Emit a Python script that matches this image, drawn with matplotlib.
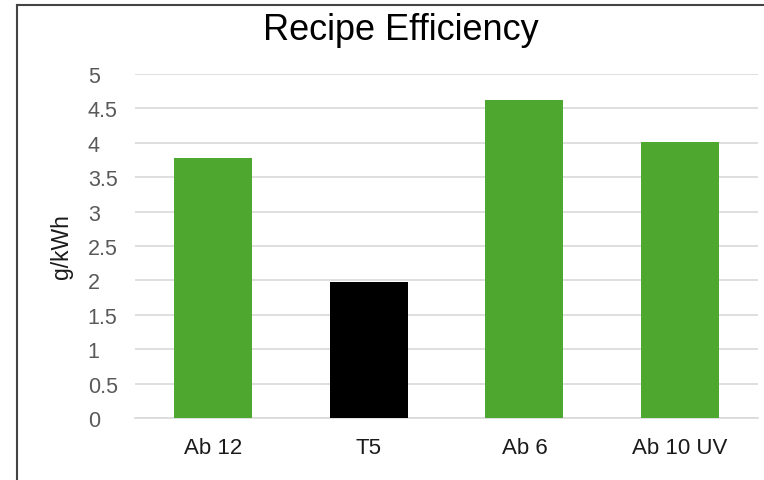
import matplotlib
matplotlib.use("Agg")
import matplotlib.pyplot as plt
from matplotlib.lines import Line2D

categories = ["Ab 12", "T5", "Ab 6", "Ab 10 UV"]
values = [3.78, 1.98, 4.62, 4.01]
colors = ["#4EA72E", "#000000", "#4EA72E", "#4EA72E"]
yticks = [0, 0.5, 1, 1.5, 2, 2.5, 3, 3.5, 4, 4.5, 5]
ytick_labels = ["0", "0.5", "1", "1.5", "2", "2.5", "3", "3.5", "4", "4.5", "5"]

plt.rcParams['font.family'] = ['Liberation Sans', 'DejaVu Sans']

fig = plt.figure(figsize=(7.64, 4.81), dpi=100)
W, H = 764, 481
ax = fig.add_axes([135 / W, 1 - 419 / H, (758 - 135) / W, (419 - 75) / H])

x = list(range(len(categories)))
ax.bar(x, values, width=0.5, color=colors, zorder=3)
ax.set_xlim(-0.5, len(categories) - 0.5)
ax.set_ylim(0, 5)
ax.set_yticks(yticks)
ax.set_yticklabels(ytick_labels)
ax.set_xticks(x)
ax.set_xticklabels(categories)
ax.yaxis.grid(True, color="#D9D9D9", linewidth=1.2, zorder=0)
for s in ["top", "right", "left"]:
    ax.spines[s].set_visible(False)
ax.spines["bottom"].set_color("#D9D9D9")
ax.spines["bottom"].set_linewidth(1.2)
ax.tick_params(axis='y', length=0, pad=34, labelsize=15.5, labelcolor="#595959")
for lab in ax.get_yticklabels():
    lab.set_horizontalalignment('left')
ax.tick_params(axis='x', length=0, pad=14, labelsize=16, labelcolor="#1a1a1a")
ax.set_ylabel("g/kWh", fontsize=16.5, color="#1a1a1a")
ax.yaxis.set_label_coords(-(135 - 73) / (758 - 135), 0.5)

fig.text(401 / W, 1 - 39.5 / H, "Recipe Efficiency", ha="center", va="baseline", fontsize=26, color="#000000")

fig.add_artist(Line2D([17 / W, 17 / W], [0, 1 - 6 / H], color="#444444", linewidth=1.5, transform=fig.transFigure))
fig.add_artist(Line2D([17 / W, 1], [1 - 6 / H, 1 - 6 / H], color="#444444", linewidth=1.5, transform=fig.transFigure))

fig.savefig("out.png", dpi=100)
